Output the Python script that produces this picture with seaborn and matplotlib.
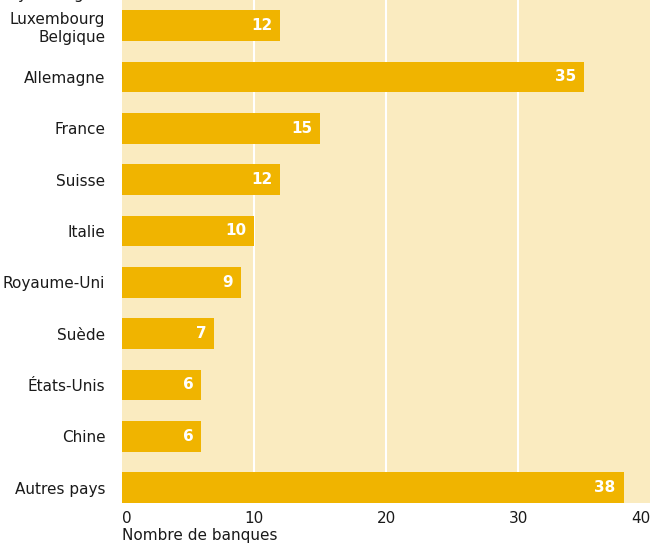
import matplotlib
matplotlib.use('Agg')
import matplotlib.pyplot as plt
import seaborn as sns
import pandas as pd

# --- Data ---
pays = ['Luxembourg\nBelgique', 'Allemagne', 'France', 'Suisse', 'Italie',
        'Royaume-Uni', 'Suède', 'États-Unis', 'Chine', 'Autres pays']
nombre = [12, 35, 15, 12, 10, 9, 7, 6, 6, 38]
x_ticks = [0, 10, 20, 30, 40]

df = pd.DataFrame({'pays': pays, 'nombre': nombre})

bar_color = '#F0B400'
bg_color = '#FAEBC0'

sns.set_style('white')
plt.rcParams['font.family'] = ['DejaVu Sans']

fig = plt.figure(figsize=(6.52, 5.47), dpi=100)
ax = fig.add_axes([122 / 652, 44 / 547, 528 / 652, 503 / 547])
ax.set_facecolor(bg_color)

sns.barplot(data=df, x='nombre', y='pays', color=bar_color, saturation=1,
            width=0.6, linewidth=0, ax=ax, zorder=3)

ax.set_xlim(0, 40)
ax.set_ylim(9.3, -0.5)
ax.set_xticks(x_ticks)
for v in x_ticks[1:-1]:
    ax.axvline(v, color='white', linewidth=1.5, zorder=1)

# value labels inside bar ends
for i, v in enumerate(nombre):
    ax.text(v - 0.6, i, str(v), color='white', fontweight='bold',
            fontsize=11, ha='right', va='center', zorder=4)

ax.tick_params(axis='both', length=0, labelsize=11, colors='#1a1a1a')
ax.tick_params(axis='x', pad=6)
ax.tick_params(axis='y', pad=12)
for lab in ax.get_yticklabels():
    lab.set_multialignment('right')
xlabs = ax.get_xticklabels()
xlabs[0].set_ha('left')
xlabs[-1].set_ha('right')
ax.set_ylabel('')
ax.set_xlabel('')
for s in ax.spines.values():
    s.set_visible(False)

fig.text(122 / 652, 4 / 547, 'Nombre de banques', fontsize=11,
         ha='left', va='bottom', color='#1a1a1a')
fig.text(0.0, 1.0 + 1 / 547, "Pays d'origine", fontsize=11,
         ha='left', va='baseline', color='#1a1a1a')

fig.savefig('out.png', dpi=100)
